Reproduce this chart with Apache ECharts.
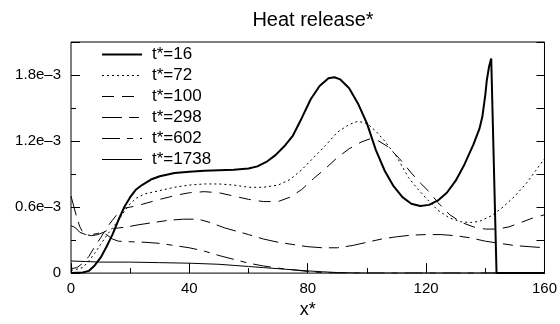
<!DOCTYPE html>
<html>
<head>
<meta charset="utf-8">
<script src="https://cdn.jsdelivr.net/npm/echarts@6/dist/echarts.min.js"></script>
<style>html,body{margin:0;padding:0;background:#fff}#c{width:560px;height:324px}</style>
</head>
<body>
<div id="c"></div>
<script>
// values in units of 1e-3
var seriesNames = ['t*=16', 't*=72', 't*=100', 't*=298', 't*=602', 't*=1738'];
var xTicks = [0, 40, 80, 120, 160];
var yTickLabels = {0: '0', 0.6: '0.6e\u20133', 1.2: '1.2e\u20133', 1.8: '1.8e\u20133'};

var t16 = [[0,0],[4,0.005],[6,0.02],[8,0.07],[10,0.14],[12,0.24],[14,0.35],[16,0.48],[18,0.6],[20,0.69],[22,0.76],[24,0.8],[27,0.85],[30,0.88],[35,0.91],[40,0.92],[45,0.93],[50,0.935],[55,0.94],[60,0.95],[63,0.97],[66,1.01],[69,1.07],[72,1.15],[75,1.25],[78,1.41],[81,1.58],[84,1.7],[87,1.77],[89,1.78],[91,1.76],[94,1.68],[97,1.54],[100,1.36],[103,1.12],[106,0.93],[109,0.79],[112,0.69],[115,0.63],[118,0.61],[121,0.62],[124,0.66],[127,0.73],[130,0.84],[133,0.99],[136,1.17],[138,1.31],[139,1.42],[140,1.62],[140.5,1.75],[141.3,1.88],[142,1.95],[142.4,1.96],[143.8,0],[160,0]];
var t72 = [[0,0.025],[2,0.035],[4,0.05],[6,0.11],[8,0.18],[10,0.26],[12,0.34],[14,0.41],[16,0.48],[18,0.56],[20,0.63],[22,0.68],[25,0.72],[30,0.75],[35,0.78],[40,0.8],[45,0.81],[50,0.81],[55,0.8],[60,0.78],[65,0.78],[70,0.8],[74,0.85],[78,0.94],[82,1.05],[86,1.16],[90,1.28],[94,1.35],[97,1.38],[100,1.36],[103,1.29],[106,1.2],[110,1.06],[114,0.87],[117,0.77],[120,0.68],[124,0.57],[128,0.5],[132,0.465],[135,0.46],[138,0.47],[142,0.52],[146,0.6],[150,0.7],[154,0.82],[157,0.93],[160,1.04]];
var t100 = [[0,0.04],[2,0.05],[4,0.09],[6,0.15],[8,0.24],[10,0.32],[12,0.41],[14,0.48],[16,0.55],[18,0.59],[20,0.6],[22,0.61],[26,0.64],[30,0.67],[36,0.71],[40,0.73],[45,0.74],[50,0.73],[55,0.7],[60,0.67],[65,0.65],[70,0.65],[74,0.69],[78,0.76],[82,0.86],[86,0.95],[90,1.05],[94,1.13],[98,1.19],[101,1.22],[104,1.2],[107,1.15],[111,1.04],[115,0.91],[118,0.82],[121,0.74],[124,0.64],[128,0.53],[132,0.46],[136,0.42],[140,0.4],[144,0.4],[148,0.42],[152,0.46],[156,0.5],[160,0.53]];
var t298 = [[0,0.7],[1,0.6],[2,0.5],[3,0.42],[4,0.37],[5,0.35],[7,0.34],[9,0.35],[11,0.37],[13,0.4],[16,0.41],[19,0.42],[23,0.44],[28,0.46],[33,0.48],[38,0.49],[43,0.49],[47,0.46],[52,0.41],[56,0.38],[60,0.35],[65,0.31],[70,0.28],[75,0.26],[80,0.24],[85,0.23],[90,0.23],[95,0.25],[100,0.28],[105,0.31],[110,0.33],[115,0.345],[120,0.35],[125,0.35],[130,0.34],[135,0.32],[140,0.29],[145,0.27],[150,0.25],[155,0.24],[160,0.23]];
var t602 = [[0,0.43],[1,0.42],[2,0.4],[3,0.37],[5,0.35],[7,0.35],[9,0.36],[10,0.37],[12,0.35],[14,0.31],[16,0.29],[20,0.285],[25,0.28],[30,0.27],[35,0.25],[40,0.23],[45,0.2],[50,0.16],[55,0.125],[60,0.09],[65,0.065],[70,0.045],[75,0.03],[80,0.015],[85,0.005],[90,0],[160,0]];
var t1738 = [[0,0.11],[5,0.105],[10,0.1],[20,0.1],[30,0.095],[40,0.09],[50,0.08],[55,0.07],[60,0.06],[65,0.05],[70,0.04],[75,0.03],[80,0.02],[85,0.012],[90,0.005],[95,0.002],[100,0],[160,0]];

var dataList = [t16, t72, t100, t298, t602, t1738];
var styles = [
  {width: 2, type: 'solid'},
  {width: 1, type: [2, 3]},
  {width: 1, type: [12, 8]},
  {width: 1, type: [20, 7, 10, 7]},
  {width: 1, type: [18, 7, 6, 7]},
  {width: 1, type: 'solid'}
];
var FONT = 'Liberation Sans, Arial, Helvetica, sans-serif';

var chart = echarts.init(document.getElementById('c'), null, {renderer: 'canvas'});
var series = seriesNames.map(function (n, i) {
  return {
    name: n, type: 'line', data: dataList[i], symbol: 'none', smooth: false,
    xAxisIndex: 0, yAxisIndex: 0,
    lineStyle: {color: '#000', width: styles[i].width, type: styles[i].type},
    itemStyle: {color: '#000'}, animation: false
  };
});
var legendData = seriesNames.map(function (n, i) {
  return {name: n, itemStyle: {opacity: 0, borderWidth: 0},
          lineStyle: {color: '#000', width: styles[i].width, type: styles[i].type}};
});
var yBase = {type: 'value', min: 0, max: 2.1, splitLine: {show: false}, axisLine: {show: false}};
chart.setOption({
  animation: false,
  title: {text: 'Heat release*', left: 308, top: 5, textAlign: 'center',
    textStyle: {fontFamily: FONT, fontSize: 20, fontWeight: 'normal', color: '#000'}},
  grid: {left: 71, right: 15, top: 42, bottom: 48, show: true, borderColor: '#000', borderWidth: 1},
  legend: {
    data: legendData, orient: 'vertical', left: 101, top: 46, padding: 0,
    itemWidth: 40, itemHeight: 14, itemGap: 4,
    itemStyle: {opacity: 0, borderWidth: 0},
    textStyle: {fontFamily: FONT, fontSize: 17, lineHeight: 17, color: '#000', padding: [0, 0, 0, 5]}
  },
  xAxis: [
    {type: 'value', position: 'bottom', min: xTicks[0], max: xTicks[xTicks.length - 1], interval: 40,
     splitLine: {show: false}, axisLine: {show: false},
     axisTick: {inside: true, length: 10, lineStyle: {color: '#000'}},
     minorTick: {show: true, splitNumber: 2, length: 5, lineStyle: {color: '#000'}},
     axisLabel: {fontFamily: FONT, fontSize: 15, color: '#000', margin: 8},
     name: 'x*', nameLocation: 'middle', nameGap: 25,
     nameTextStyle: {fontFamily: FONT, fontSize: 18, color: '#000'}},
    {type: 'value', position: 'top', min: 0, max: 160, show: true, axisLine: {show: false},
     axisTick: {show: false}, axisLabel: {show: false}, splitLine: {show: false}}
  ],
  yAxis: [
    Object.assign({}, yBase, {position: 'left', interval: 0.3,
      axisTick: {inside: true, length: 5, lineStyle: {color: '#000'}}, axisLabel: {show: false}}),
    Object.assign({}, yBase, {position: 'left', interval: 0.6,
      axisTick: {inside: true, length: 9, lineStyle: {color: '#000'}},
      axisLabel: {fontFamily: FONT, fontSize: 15, color: '#000', margin: 10,
        formatter: function (v) {
          var k = Math.round(v * 10) / 10;
          return yTickLabels.hasOwnProperty(k) ? yTickLabels[k] : '';
        }}}),
    Object.assign({}, yBase, {position: 'right', interval: 0.3,
      axisTick: {inside: true, length: 8, lineStyle: {color: '#000'}}, axisLabel: {show: false}})
  ],
  series: series
});
</script>
</body>
</html>
